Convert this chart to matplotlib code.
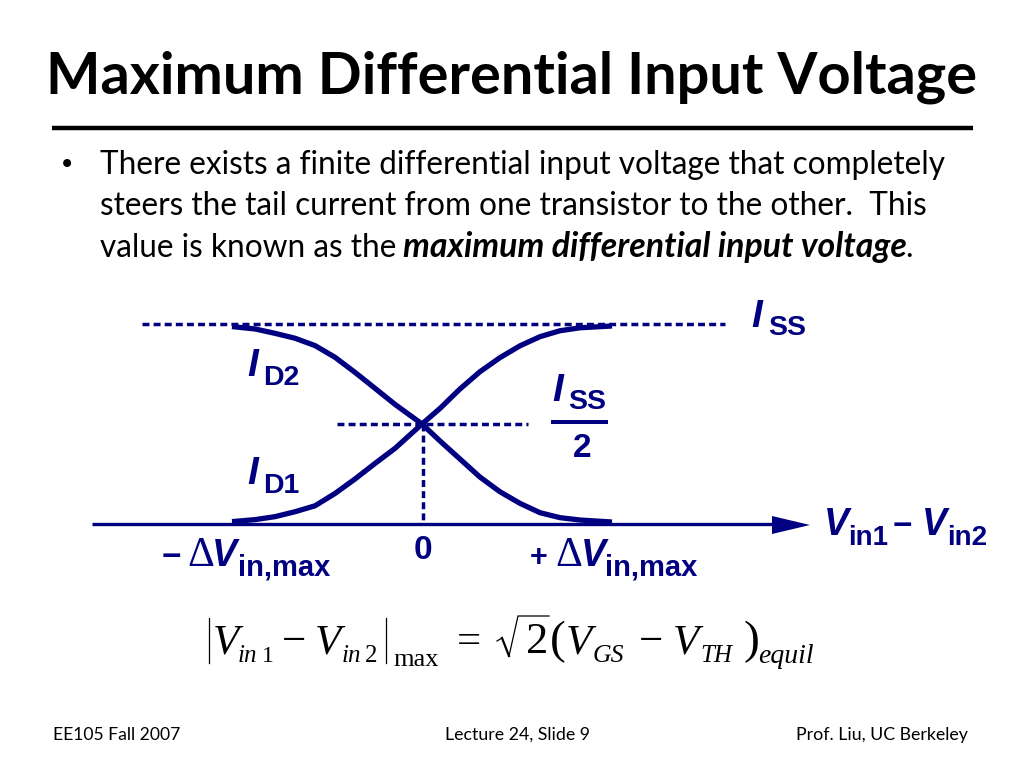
import matplotlib
matplotlib.use("Agg")
import matplotlib.pyplot as plt

# curves, x in units of dVin,max, y in units of Iss
vin = [-1, -.879, -.774, -.668, -.563, -.458, -.353, -.247, -.142, 0,
       .095, .2, .305, .41, .516, .621, .726, .832, 1]
id1 = [.007, .017, .032, .057, .087, .149, .222, .301, .377, .5,
       .579, .677, .764, .835, .895, .941, .971, .986, .995]
id2 = [.992, .980, .958, .933, .896, .837, .761, .680, .599, .5,
       .414, .323, .232, .158, .099, .052, .027, .015, .005]

bullet_lines = ["There exists a finite differential input voltage that completely",
                "steers the tail current from one transistor to the other.  This",
                "value is known as the "]
TITLE = "Maximum Differential Input Voltage"
FOOTER = ["EE105 Fall 2007", "Lecture 24, Slide 9", "Prof. Liu, UC Berkeley"]

NAVY = "#000080"
SLIDE_FONT = "Lato"
DIAG_FONT = "Liberation Sans"
EQ_FONT = "Liberation Serif"

fig = plt.figure(figsize=(10.24, 7.68), dpi=100)
ax = fig.add_axes([0, 0, 1, 1])
ax.set_xlim(0, 1024)
ax.set_ylim(768, 0)
ax.axis("off")


def txt(x, y, s, size, font=DIAG_FONT, color=NAVY, weight="normal", style="normal", ha="left"):
    ax.text(x, y, s, fontsize=size, family=font, color=color, weight=weight,
            style=style, ha=ha, va="baseline")


def eq(x, y, s, size, style="normal"):
    txt(x, y, s, size, EQ_FONT, "black", style=style)


# title and rule
txt(512, 94, TITLE, 41.6, SLIDE_FONT, "black", "bold", ha="center")
ax.plot([52, 973], [128, 128], color="black", lw=3.2, solid_capstyle="butt")

# bullet text
txt(59, 173, "\u2022", 20, "DejaVu Sans", "black")
for y, line in zip([174, 215, 257], bullet_lines):
    txt(100, y, line, 22.7, SLIDE_FONT, "black")
txt(403, 257, "maximum differential input voltage", 24.4, SLIDE_FONT, "black", "bold", "italic")
txt(905, 257, ".", 22.7, SLIDE_FONT, "black")

# dashed guides
dash = dict(color=NAVY, lw=2.5, ls=(0, (2.0, 1.2)))
ax.plot([142, 725], [324, 324], **dash)
ax.plot([337, 528], [424, 424], **dash)
ax.plot([423, 423], [424, 523], **dash)

# axis arrow
ax.plot([92, 780], [524, 524], color=NAVY, lw=2.4, solid_capstyle="butt")
ax.fill([772, 810, 772], [516, 525, 534], color=NAVY, lw=0)

# curves
ax2 = fig.add_axes([232 / 1024, (768 - 523) / 768, 380 / 1024, 198 / 768])
ax2.set_xlim(-1, 1)
ax2.set_ylim(0, 1)
ax2.axis("off")
ax2.patch.set_alpha(0)
ax2.plot(vin, id1, color=NAVY, lw=3.8, solid_capstyle="butt", clip_on=False)
ax2.plot(vin, id2, color=NAVY, lw=3.8, solid_capstyle="butt", clip_on=False)

# diagram labels
LAB = dict(weight="bold")
txt(247, 376, "I", 28, style="italic", **LAB)
txt(263, 385, "D2", 20.5, **LAB)
txt(247, 484, "I", 28, style="italic", **LAB)
txt(263, 493, "D1", 20.5, **LAB)
txt(751, 327, "I", 28, style="italic", **LAB)
txt(768, 335, "SS", 20.5, **LAB)
txt(552, 401, "I", 28, style="italic", **LAB)
txt(568, 409, "SS", 20.5, **LAB)
ax.plot([551, 608], [422, 422], color=NAVY, lw=2.9, solid_capstyle="butt")
txt(582, 457, "2", 24, ha="center", **LAB)
txt(423, 559, "0", 24, ha="center", **LAB)

txt(162, 566, "\u2212", 24, **LAB)
txt(187, 566, "\u0394", 30, EQ_FONT)
txt(212, 566, "V", 27, style="italic", **LAB)
txt(238, 575, "in,max", 21, **LAB)
txt(530, 566, "+", 22, **LAB)
txt(555, 566, "\u0394", 30, EQ_FONT)
txt(581, 566, "V", 27, style="italic", **LAB)
txt(605, 575, "in,max", 21, **LAB)

txt(824, 535, "V", 27, style="italic", **LAB)
txt(848, 545, "in1", 20, **LAB)
txt(893, 535, "\u2212", 24, **LAB)
txt(922, 535, "V", 27, style="italic", **LAB)
txt(947, 545, "in2", 20, **LAB)

# equation
ax.plot([209, 209], [618, 663], color="black", lw=0.9)
ax.plot([386, 386], [618, 663], color="black", lw=0.9)
eq(213, 653, "V", 31, "italic")
eq(238, 662, "in", 18, "italic")
eq(262, 662, "1", 17)
eq(282, 653, "\u2212", 31)
eq(315, 653, "V", 31, "italic")
eq(342, 662, "in", 18, "italic")
eq(365, 662, "2", 18)
eq(393, 666, "max", 19)
eq(457, 653, "=", 31)
ax.plot([497, 502], [641, 638], color="black", lw=0.9)
ax.plot([502, 509], [638, 656], color="black", lw=1.6)
ax.plot([509, 518, 549], [656, 616, 616], color="black", lw=0.9)
eq(526, 653, "2", 32)
eq(550, 653, "(", 34)
eq(566, 653, "V", 31, "italic")
eq(593, 662, "GS", 18.5, "italic")
eq(639, 653, "\u2212", 31)
eq(673, 653, "V", 31, "italic")
eq(700, 662, "TH", 18, "italic")
eq(743, 653, ")", 34)
eq(758, 663, "equil", 20, "italic")

# footer
txt(53, 740, FOOTER[0], 12.6, SLIDE_FONT, "black")
txt(445, 740, FOOTER[1], 12.8, SLIDE_FONT, "black")
txt(968, 740, FOOTER[2], 12.8, SLIDE_FONT, "black", ha="right")

fig.savefig("out.png", dpi=100)
